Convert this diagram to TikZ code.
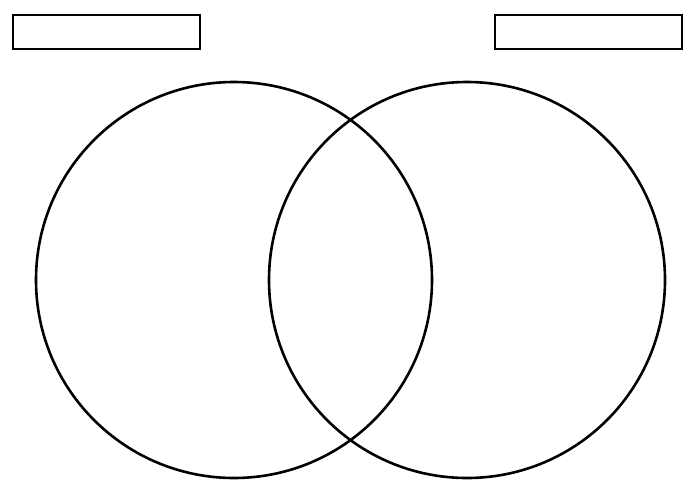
\documentclass[tikz,border=0pt]{standalone}
\begin{document}
\begin{tikzpicture}[x=1pt,y=-1pt,
  outline/.style={draw=black,line width=2.6pt,inner sep=0pt},
  ring/.style={outline,circle,minimum size=396pt},
  box/.style={outline,rectangle,minimum width=187pt,minimum height=34pt}]
\useasboundingbox (0,0) rectangle (700,500);
\node[box] (lbox) at (106.5,32) {};
\node[box] (rbox) at (588.5,32) {};
\node[ring] (lcirc) at (234,280) {};
\node[ring] (rcirc) at (467,280) {};
\end{tikzpicture}
\end{document}
